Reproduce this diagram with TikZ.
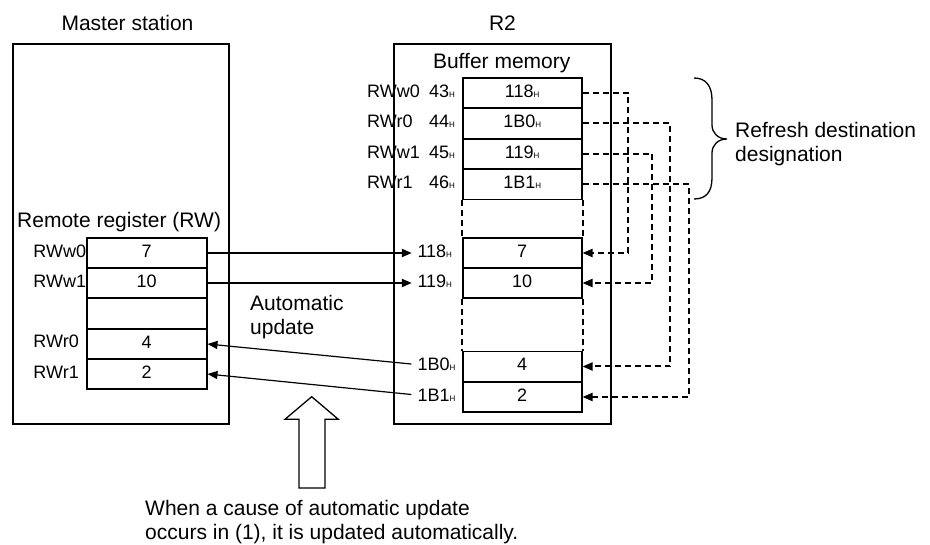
\documentclass[tikz,border=0pt]{standalone}
\usepackage{fontspec}
\setmainfont{Liberation Sans}
\usetikzlibrary{arrows.meta}
\newcommand{\bigfnt}{\fontsize{21}{24.5}\selectfont}
\newcommand{\labfnt}{\fontsize{18}{21}\selectfont}
\newcommand{\Hsub}{{\fontsize{8}{8}\selectfont H}}
\begin{document}
\begin{tikzpicture}[x=1pt,y=-1pt,
  outerbox/.style={draw, line width=1.3pt, inner sep=0},
  cell/.style={draw, line width=1.6pt, inner sep=0, minimum height=30.3pt,
    text height=9pt, text depth=0pt, font=\labfnt},
  lbl/.style={inner sep=0, font=\labfnt},
  txt/.style={inner sep=0, font=\bigfnt, align=left},
  dashline/.style={line width=2pt, dash pattern=on 6pt off 4pt},
  tip/.style={-{Triangle[length=10pt,width=8pt]}}]
\useasboundingbox (0,0) rectangle (930,545);

% outer boxes
\node[outerbox, minimum width=216pt, minimum height=380pt] (master) at (121,234) {};
\node[outerbox, minimum width=217pt, minimum height=380pt] (r2) at (502.5,234) {};
\node[txt, anchor=base] (tmaster) at (127.5,31) {Master station};
\node[txt, anchor=base] (tr2) at (502.5,31) {R2};

% master station table
\node[txt, anchor=base west] (trr) at (17,228) {Remote register (RW)};
\node[cell, minimum width=120pt] (m1) at (146.7,253) {7};
\node[cell, minimum width=120pt] (m2) at (146.7,283) {10};
\node[cell, minimum width=120pt] (m3) at (146.7,313.5) {};
\node[cell, minimum width=120pt] (m4) at (146.7,344) {4};
\node[cell, minimum width=120pt] (m5) at (146.7,374) {2};
\node[lbl, anchor=base west] (lw0) at (33.3,257.3) {RWw0};
\node[lbl, anchor=base west] (lw1) at (33.3,287.5) {RWw1};
\node[lbl, anchor=base west] (lr0) at (33.3,348) {RWr0};
\node[lbl, anchor=base west] (lr1) at (33.3,378.2) {RWr1};

% buffer memory
\node[txt, anchor=base] (tbuf) at (501.7,69) {Buffer memory};
\node[cell, minimum width=119pt] (b1) at (522.2,93) {118\Hsub};
\node[cell, minimum width=119pt] (b2) at (522.2,123.5) {1B0\Hsub};
\node[cell, minimum width=119pt] (b3) at (522.2,154) {119\Hsub};
\node[cell, minimum width=119pt] (b4) at (522.2,184.5) {1B1\Hsub};
\node[lbl, anchor=base west] (n1) at (367,97.5) {RWw0};
\node[lbl, anchor=base west] (n2) at (367,128) {RWr0};
\node[lbl, anchor=base west] (n3) at (367,158.5) {RWw1};
\node[lbl, anchor=base west] (n4) at (367,189) {RWr1};
\node[lbl, anchor=base east] (a1) at (455,97.5) {43\Hsub};
\node[lbl, anchor=base east] (a2) at (455,128) {44\Hsub};
\node[lbl, anchor=base east] (a3) at (455,158.5) {45\Hsub};
\node[lbl, anchor=base east] (a4) at (455,189) {46\Hsub};

\node[cell, minimum width=119pt] (c1) at (522.2,253) {7};
\node[cell, minimum width=119pt] (c2) at (522.2,283) {10};
\node[cell, minimum width=119pt] (d1) at (522.2,366.5) {4};
\node[cell, minimum width=119pt] (d2) at (522.2,397) {2};
\draw[dashline] (b4.south west) -- (c1.north west);
\draw[dashline] (b4.south east) -- (c1.north east);
\draw[dashline] (c2.south west) -- (d1.north west);
\draw[dashline] (c2.south east) -- (d1.north east);

\node[lbl, anchor=base west] (l118) at (417.3,257.3) {118\Hsub};
\node[lbl, anchor=base west] (l119) at (417.3,287.3) {119\Hsub};
\node[lbl, anchor=base west] (l1b0) at (417.3,370.8) {1B0\Hsub};
\node[lbl, anchor=base west] (l1b1) at (417.3,401.3) {1B1\Hsub};

% automatic update arrows
\draw[tip, line width=2pt, shorten >=5.5pt] (m1.east) -- (m1.east -| l118.west);
\draw[tip, line width=2pt, shorten >=5.5pt] (m2.east) -- (m2.east -| l119.west);
\draw[tip, line width=1.2pt, shorten <=6pt] (l1b0.west) -- (m4.east);
\draw[tip, line width=1.2pt, shorten <=6pt] (l1b1.west) -- (m5.east);
\node[txt, anchor=base west] (tauto) at (250,335) {Automatic\\update};

% refresh destination dashed connectors
\coordinate (k1) at (628,0);
\coordinate (k2) at (670,0);
\coordinate (k3) at (652,0);
\coordinate (k4) at (689,0);
\draw[dashline, tip] (b1.east) -- (b1.east -| k1) -- (c1.east -| k1) -- (c1.east);
\draw[dashline, tip] (b2.east) -- (b2.east -| k2) -- (d1.east -| k2) -- (d1.east);
\draw[dashline, tip] (b3.east) -- (b3.east -| k3) -- (c2.east -| k3) -- (c2.east);
\draw[dashline, tip] (b4.east) -- (b4.east -| k4) -- (d2.east -| k4) -- (d2.east);

% brace
\draw[line width=1.3pt] (694,78) .. controls (706,78) and (712,86) .. (712,100)
  -- (712,125) .. controls (712,133) and (718,139) .. (727,139)
  .. controls (718,139) and (712,145) .. (712,153)
  -- (712,178) .. controls (712,192) and (706,199) .. (694,199);
\node[txt, anchor=base west] (tref) at (735,162) {Refresh destination\\designation};

% big hollow arrow
\draw[line width=1.3pt, line join=miter] (299,488) -- (299,419.3) -- (285,419.3) -- (311.7,396.7)
  -- (338.3,419.3) -- (325,419.3) -- (325,488) -- cycle;
\node[txt, anchor=base west] (tcause) at (145,539.5) {When a cause of automatic update\\occurs in (1), it is updated automatically.};
\end{tikzpicture}
\end{document}
